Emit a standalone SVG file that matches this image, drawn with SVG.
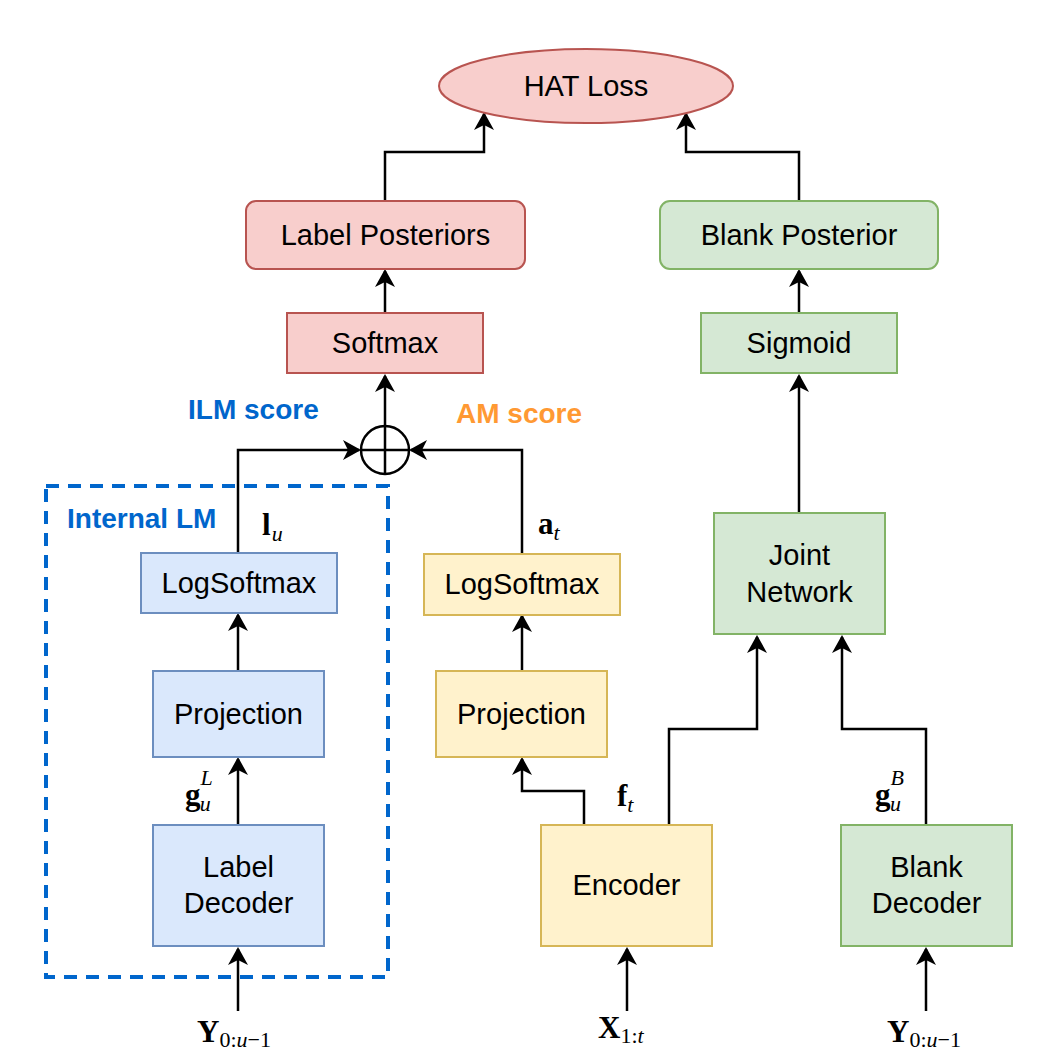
<svg xmlns="http://www.w3.org/2000/svg" width="1052" height="1060" viewBox="0 0 1052 1060">
<defs>
<style>
.t{font-family:"Liberation Sans",Arial,Helvetica,sans-serif;font-size:29px;fill:#000;text-anchor:middle}
.red{fill:#f8cecc;stroke:#b85450;stroke-width:2}
.green{fill:#d5e8d4;stroke:#82b366;stroke-width:2}
.blue{fill:#dae8fc;stroke:#6c8ebf;stroke-width:2}
.yellow{fill:#fff2cc;stroke:#d6b656;stroke-width:2}
.edge{fill:none;stroke:#000;stroke-width:2.5;marker-end:url(#arr)}
.m{font-family:"Liberation Serif","DejaVu Serif","Times New Roman",serif;fill:#000}
.mb{font-weight:bold;font-size:31px}
.mi{font-style:italic;font-size:22px}
.mr{font-size:22px}
.lbl{font-family:"Liberation Sans",Arial,Helvetica,sans-serif;font-size:28px;font-weight:bold}
</style>
<marker id="arr" viewBox="-20 -11 22 22" markerWidth="22" markerHeight="22" refX="0" refY="0" markerUnits="userSpaceOnUse" orient="auto">
<path d="M2,0 L-16,-10 L-11,0 L-16,10 Z" fill="#000"/>
</marker>
</defs>
<rect width="1052" height="1060" fill="#fff"/>

<g id="internal-lm">
<rect x="46" y="486" width="342" height="491" fill="none" stroke="#0066cc" stroke-width="4" stroke-dasharray="13 9"/>
<text x="67" y="528" class="lbl" fill="#0066cc">Internal LM</text>
</g>

<g id="connectors">
<path class="edge" d="M385,201 V152 H484 V114"/>
<path class="edge" d="M799,201 V152 H686 V114"/>
<path class="edge" d="M385,313 V271"/>
<path class="edge" d="M799,313 V271"/>
<path class="edge" d="M385,426 V376"/>
<path class="edge" d="M799,513 V376"/>
<path class="edge" d="M238,553 V450 H359"/>
<path class="edge" d="M522,554 V450 H411"/>
<path class="edge" d="M238,671 V615"/>
<path class="edge" d="M522,671 V616"/>
<path class="edge" d="M238,825 V759"/>
<path class="edge" d="M584,825 V791 H522 V759"/>
<path class="edge" d="M669,825 V729 H757 V637"/>
<path class="edge" d="M926,825 V729 H842 V637"/>
<path class="edge" d="M238,1011 V949"/>
<path class="edge" d="M627,1011 V949"/>
<path class="edge" d="M926,1011 V949"/>
</g>

<g id="hat-loss">
<ellipse cx="586" cy="86" rx="147" ry="37" class="red"/>
<text x="586" y="96" class="t">HAT Loss</text>
</g>
<g id="label-posteriors">
<rect x="246" y="201" width="279" height="68" rx="10" class="red"/>
<text x="385.5" y="245" class="t">Label Posteriors</text>
</g>
<g id="blank-posterior">
<rect x="660" y="201" width="278" height="68" rx="10" class="green"/>
<text x="799" y="245" class="t">Blank Posterior</text>
</g>
<g id="softmax">
<rect x="287" y="313" width="196" height="60" class="red"/>
<text x="385" y="353" class="t">Softmax</text>
</g>
<g id="sigmoid">
<rect x="701" y="313" width="196" height="60" class="green"/>
<text x="799" y="353" class="t">Sigmoid</text>
</g>
<g id="sum">
<circle cx="385" cy="450" r="24" fill="#fff" stroke="#000" stroke-width="2.5"/>
<path d="M361,450 H409 M385,426 V474" stroke="#000" stroke-width="2.5"/>
</g>
<g id="ilm-score"><text x="188" y="419" class="lbl" fill="#0066cc">ILM score</text></g>
<g id="am-score"><text x="456" y="423" class="lbl" fill="#ff9933">AM score</text></g>

<g id="logsoftmax-lm">
<rect x="141" y="553" width="196" height="60" class="blue"/>
<text x="239" y="593" class="t">LogSoftmax</text>
</g>
<g id="projection-lm">
<rect x="153" y="671" width="171" height="86" class="blue"/>
<text x="238.5" y="724" class="t">Projection</text>
</g>
<g id="label-decoder">
<rect x="153" y="825" width="171" height="121" class="blue"/>
<text x="238.5" y="877" class="t">Label</text>
<text x="238.5" y="913" class="t">Decoder</text>
</g>
<g id="logsoftmax-am">
<rect x="424" y="554" width="196" height="61" class="yellow"/>
<text x="522" y="594" class="t">LogSoftmax</text>
</g>
<g id="projection-am">
<rect x="436" y="671" width="171" height="86" class="yellow"/>
<text x="521.5" y="724" class="t">Projection</text>
</g>
<g id="encoder">
<rect x="541" y="825" width="171" height="121" class="yellow"/>
<text x="626.5" y="895" class="t">Encoder</text>
</g>
<g id="joint-network">
<rect x="714" y="513" width="171" height="121" class="green"/>
<text x="799.5" y="565" class="t">Joint</text>
<text x="799.5" y="602" class="t">Network</text>
</g>
<g id="blank-decoder">
<rect x="841" y="825" width="171" height="121" class="green"/>
<text x="926.5" y="877" class="t">Blank</text>
<text x="926.5" y="913" class="t">Decoder</text>
</g>

<g id="math-labels">
<text x="262" y="535" class="m"><tspan class="mb">l</tspan><tspan class="mi" dx="1" dy="6">u</tspan></text>
<text x="538" y="534" class="m"><tspan class="mb">a</tspan><tspan class="mi" dy="6">t</tspan></text>
<text x="185" y="805" class="m"><tspan class="mb">g</tspan><tspan class="mi" dy="-20">L</tspan><tspan class="mi" dx="-13" dy="26">u</tspan></text>
<text x="617" y="806" class="m"><tspan class="mb">f</tspan><tspan class="mi" dy="6">t</tspan></text>
<text x="875" y="805" class="m"><tspan class="mb">g</tspan><tspan class="mi" dy="-20">B</tspan><tspan class="mi" dx="-14" dy="26">u</tspan></text>
<text x="197" y="1042" class="m"><tspan class="mb">Y</tspan><tspan class="mr" dy="5">0:</tspan><tspan class="mi">u</tspan><tspan class="mr">−1</tspan></text>
<text x="598" y="1038" class="m"><tspan class="mb">X</tspan><tspan class="mr" dy="5">1:</tspan><tspan class="mi">t</tspan></text>
<text x="887" y="1042" class="m"><tspan class="mb">Y</tspan><tspan class="mr" dy="5">0:</tspan><tspan class="mi">u</tspan><tspan class="mr">−1</tspan></text>
</g>
</svg>
